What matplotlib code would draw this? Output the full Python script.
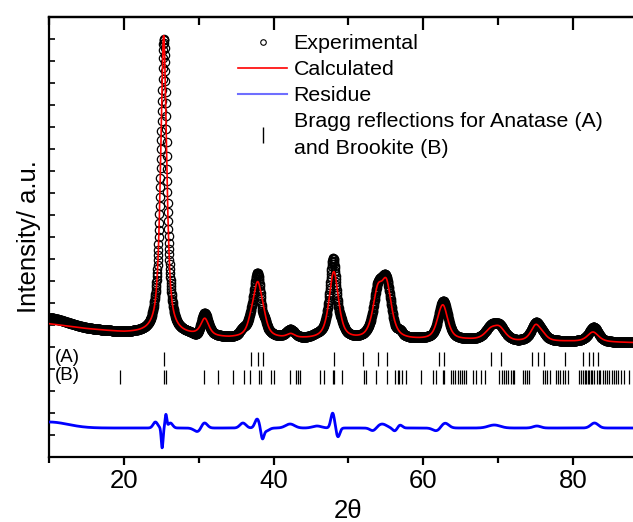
import numpy as np
import matplotlib.pyplot as plt
from matplotlib.lines import Line2D
from matplotlib.ticker import MultipleLocator

plt.rcParams['font.family'] = ['Liberation Sans', 'DejaVu Sans']

# background knots (2theta, intensity)
bkg_pos = [10, 15, 20, 28, 34, 44, 52, 59, 66, 72, 79, 90]
bkg_val = [133, 128, 124, 121, 118, 117, 115, 116, 116, 114, 115, 114]

# calculated reflections: position, height, FWHM
peak_pos = [25.3, 30.8, 37.0, 37.85, 38.6, 42.3, 48.05, 53.9, 55.1,
            62.15, 62.7, 69.0, 70.2, 75.05, 76.0, 82.7]
peak_hgt = [299, 17, 9, 50, 11, 4, 68, 42, 50, 8, 30, 9, 12, 16, 4, 10]
peak_fwhm = [0.95, 1.3, 1.2, 1.4, 1.2, 1.3, 1.5, 1.6, 1.6, 1.3, 1.5,
             2.0, 2.0, 1.6, 1.4, 1.8]

# observed minus calculated features: position, amplitude, width
res_pos = [10.0, 24.2, 25.1, 25.6, 26.2, 29.9, 30.7, 35.9, 37.8, 38.5,
           39.0, 42.2, 45.8, 47.9, 48.6, 53.3, 54.5, 56.2, 56.9, 61.8,
           62.9, 69.5, 75.2, 82.9]
res_amp = [6, 6, -20, 13, 5, -4, 6, 5, 9, -10, -3, 4, 2, 15, -9, -3, 4,
           -3, 3, -3, 5, 3, 2, 5]
res_wid = [2.5, 0.3, 0.12, 0.12, 0.3, 0.5, 0.4, 0.4, 0.3, 0.2, 0.4, 0.6,
           0.6, 0.25, 0.25, 0.4, 0.6, 0.3, 0.3, 0.5, 0.5, 0.8, 0.5, 0.5]

# Bragg reflection positions
anatase = [25.3, 37.0, 37.85, 38.6, 48.05, 52.0, 53.95, 55.1, 62.15,
           62.8, 69.1, 70.35, 74.6, 75.35, 76.15, 79.0, 81.4, 82.1, 82.75,
           83.35]
brookite = [19.5, 25.35, 25.55, 30.7, 32.6, 34.6, 36.0, 36.8, 38.1, 38.3,
            39.7, 40.0, 42.2, 43.0, 43.2, 43.5, 46.2, 46.8, 47.95, 48.1,
            49.2, 52.1, 52.4, 53.7, 55.2, 56.2, 56.6, 56.8, 57.2, 57.7,
            59.7, 61.3, 61.7, 62.6, 62.8, 63.7, 64.0, 64.3, 64.6, 64.9,
            65.2, 65.5, 65.7, 66.6, 67.1, 67.7, 68.2, 70.2, 70.5, 70.8,
            71.1, 71.4, 71.7, 72.0, 72.2, 73.3, 73.6, 73.9, 74.2, 76.0,
            76.3, 76.6, 76.9, 77.7, 78.0, 78.3, 78.7, 79.0, 79.3, 80.8,
            81.1, 81.4, 81.6, 81.8, 82.0, 82.2, 82.4, 82.6, 82.9, 83.2,
            83.5, 83.7, 84.0, 84.3, 84.6, 84.9, 85.2, 85.5, 85.8, 86.1,
            86.4, 86.9, 87.5]

tth = np.arange(10, 90.001, 0.03)


def pvoigt(x, x0, h, w, eta=0.7):
    lor = 1 / (1 + ((x - x0) / (w / 2)) ** 2)
    gau = np.exp(-4 * np.log(2) * ((x - x0) / w) ** 2)
    return h * (eta * lor + (1 - eta) * gau)


calc = np.interp(tth, bkg_pos, bkg_val)
for p, h, w in zip(peak_pos, peak_hgt, peak_fwhm):
    calc = calc + pvoigt(tth, p, h, w)

resid = np.zeros_like(tth)
for p, a, s in zip(res_pos, res_amp, res_wid):
    resid = resid + a * np.exp(-0.5 * ((tth - p) / s) ** 2)

obs = calc + resid

res_offset = 29
a_row = (91, 105)
b_row = (73, 87)

fig = plt.figure(figsize=(6.33, 5.22), dpi=100)
ax = fig.add_axes([49.2 / 633, 1 - 457 / 522, (647.6 - 49.2) / 633,
                   440 / 522])

ax.plot(tth, obs, 'o', mfc='none', mec='black', ms=6, mew=0.9,
        zorder=2)
ax.plot(tth, calc, color='red', lw=1.2, zorder=3)
ax.plot(tth, resid + res_offset, color='blue', lw=2.0, zorder=3)

ax.vlines(anatase, *a_row, color='black', lw=0.9)
ax.vlines(brookite, *b_row, color='black', lw=0.9)
ax.text(10.7, np.mean(a_row) + 1, '(A)', fontsize=13.5, va='center')
ax.text(10.7, np.mean(b_row) + 1, '(B)', fontsize=13.5, va='center')

ax.set_xlim(10, 90)
ax.set_ylim(0, 440)

ax.spines['right'].set_visible(False)
for s in ['left', 'bottom', 'top']:
    ax.spines[s].set_linewidth(1.6)

ax.xaxis.set_major_locator(MultipleLocator(20))
ax.xaxis.set_minor_locator(MultipleLocator(10))
ax.tick_params(axis='x', which='major', direction='out', length=6,
               width=1.6, labelsize=18.5, pad=3)
ax.tick_params(axis='x', which='minor', direction='out', length=4,
               width=1.6)
ax.yaxis.set_major_locator(MultipleLocator(22))
ax.tick_params(axis='y', which='major', direction='in', length=4,
               width=1.2, labelleft=False)

top = ax.secondary_xaxis('top')
top.xaxis.set_major_locator(MultipleLocator(20))
top.xaxis.set_minor_locator(MultipleLocator(10))
top.tick_params(which='major', direction='in', length=9, width=1.6,
                labeltop=False)
top.tick_params(which='minor', direction='in', length=6, width=1.6)
top.spines['top'].set_linewidth(1.6)

ax.set_xlabel('2θ', fontsize=18.5, labelpad=4)
ax.set_ylabel('Intensity/ a.u.', fontsize=18.5, labelpad=6)

handles = [
    Line2D([], [], ls='none', marker='o', mfc='none', mec='black', ms=4,
           mew=0.8),
    Line2D([], [], color='red', lw=1.2),
    Line2D([], [], color='#6f6fff', lw=1.5),
    Line2D([], [], ls='none', marker='|', color='black', ms=11, mew=1.0),
]
labels = ['Experimental', 'Calculated', 'Residue',
          'Bragg reflections for Anatase (A)\nand Brookite (B)']
leg = ax.legend(handles, labels, loc='upper left',
                bbox_to_anchor=((238 - 49.2) / 598.4, 1 - (34 - 17) / 440),
                frameon=False, fontsize=15.4, handlelength=2.3,
                handletextpad=0.3, labelspacing=0.33, borderpad=0,
                borderaxespad=0)
for t in leg.get_texts():
    t.set_linespacing(1.5)

fig.savefig('out.png', dpi=100)
